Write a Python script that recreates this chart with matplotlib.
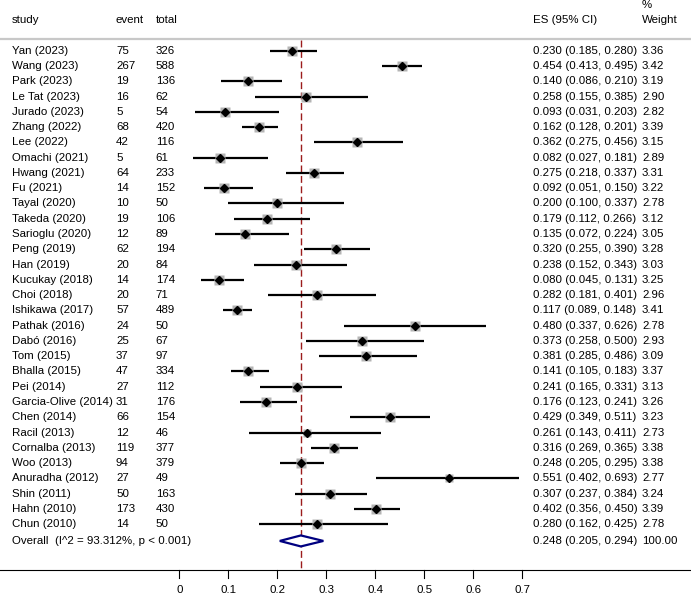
import numpy as np
import matplotlib
matplotlib.use("Agg")
import matplotlib.pyplot as plt

plt.rcParams['font.family'] = ['Liberation Sans', 'DejaVu Sans']
plt.rcParams['font.size'] = 8.25

studies = ["Yan (2023)", "Wang (2023)", "Park (2023)", "Le Tat (2023)", "Jurado (2023)",
           "Zhang (2022)", "Lee (2022)", "Omachi (2021)", "Hwang (2021)", "Fu (2021)",
           "Tayal (2020)", "Takeda (2020)", "Sarioglu (2020)", "Peng (2019)", "Han (2019)",
           "Kucukay (2018)", "Choi (2018)", "Ishikawa (2017)", "Pathak (2016)", "Dabó (2016)",
           "Tom (2015)", "Bhalla (2015)", "Pei (2014)", "Garcia-Olive (2014)", "Chen (2014)",
           "Racil (2013)", "Cornalba (2013)", "Woo (2013)", "Anuradha (2012)", "Shin (2011)",
           "Hahn (2010)", "Chun (2010)"]
events = [75, 267, 19, 16, 5, 68, 42, 5, 64, 14, 10, 19, 12, 62, 20, 14, 20, 57, 24, 25,
          37, 47, 27, 31, 66, 12, 119, 94, 27, 50, 173, 14]
totals = [326, 588, 136, 62, 54, 420, 116, 61, 233, 152, 50, 106, 89, 194, 84, 174, 71, 489,
          50, 67, 97, 334, 112, 176, 154, 46, 377, 379, 49, 163, 430, 50]
es = [0.230, 0.454, 0.140, 0.258, 0.093, 0.162, 0.362, 0.082, 0.275, 0.092, 0.200, 0.179,
      0.135, 0.320, 0.238, 0.080, 0.282, 0.117, 0.480, 0.373, 0.381, 0.141, 0.241, 0.176,
      0.429, 0.261, 0.316, 0.248, 0.551, 0.307, 0.402, 0.280]
lo = [0.185, 0.413, 0.086, 0.155, 0.031, 0.128, 0.275, 0.027, 0.218, 0.051, 0.100, 0.112,
      0.072, 0.255, 0.152, 0.045, 0.181, 0.089, 0.337, 0.258, 0.285, 0.105, 0.165, 0.123,
      0.349, 0.143, 0.269, 0.205, 0.402, 0.237, 0.356, 0.162]
hi = [0.280, 0.495, 0.210, 0.385, 0.203, 0.201, 0.456, 0.181, 0.337, 0.150, 0.337, 0.266,
      0.224, 0.390, 0.343, 0.131, 0.401, 0.148, 0.626, 0.500, 0.486, 0.183, 0.331, 0.241,
      0.511, 0.411, 0.365, 0.295, 0.693, 0.384, 0.450, 0.425]
weights = [3.36, 3.42, 3.19, 2.90, 2.82, 3.39, 3.15, 2.89, 3.31, 3.22, 2.78, 3.12, 3.05,
           3.28, 3.03, 3.25, 2.96, 3.41, 2.78, 2.93, 3.09, 3.37, 3.13, 3.26, 3.23, 2.73,
           3.38, 3.38, 2.77, 3.24, 3.39, 2.78]
overall_es, overall_lo, overall_hi = 0.248, 0.205, 0.294
overall_label = "Overall  (I^2 = 93.312%, p < 0.001)"
xticks = [0, 0.1, 0.2, 0.3, 0.4, 0.5, 0.6, 0.7]

fig = plt.figure(figsize=(6.91, 5.95), dpi=100)
ax = fig.add_axes([0, 0, 1, 1])
ax.set_xlim(-0.366, 1.0443)
ax.set_ylim(35.64, -3.32)
ax.axis("off")
tr = ax.get_yaxis_transform()  # x in axes fraction, y in data

col_study, col_event, col_total, col_es, col_w = 12 / 691, 116 / 691, 155.7 / 691, 533 / 691, 642 / 691

# headers
for x, s in [(col_study, "study"), (col_event, "event"), (col_total, "total"),
             (col_es, "ES (95% CI)"), (col_w, "Weight")]:
    ax.text(x, -2.0, s, transform=tr, va="center", ha="left")
ax.text(col_w, -3.0, "%", transform=tr, va="center", ha="left")
ax.plot([0, 1], [-0.77, -0.77], transform=tr, color="#c8c8c8", lw=1.6, clip_on=False)

# reference line
ax.plot([overall_es, overall_es], [-0.7, 34.0], color="#9b1c1c", lw=1.0, dashes=(5, 2.5), zorder=1)

rows = np.arange(len(studies))
for i in rows:
    ax.plot([lo[i], hi[i]], [i, i], color="black", lw=1.6, solid_capstyle="butt", zorder=2)
    ax.plot(es[i], i, marker="s", ms=7.2 * np.sqrt(weights[i] / 3.42), color="#b4b4b4",
            mec="none", zorder=3)
    ax.plot(es[i], i, marker="D", ms=3.6, color="black", zorder=4)
    ax.text(col_study, i, studies[i], transform=tr, va="center", ha="left")
    ax.text(col_event, i, str(events[i]), transform=tr, va="center", ha="left")
    ax.text(col_total, i, str(totals[i]), transform=tr, va="center", ha="left")
    ax.text(col_es, i, f"{es[i]:.3f} ({lo[i]:.3f}, {hi[i]:.3f})", transform=tr, va="center", ha="left")
    ax.text(col_w, i, f"{weights[i]:.2f}", transform=tr, va="center", ha="left")

# overall
oy = 32.1
h = 0.36
ax.fill([overall_lo, overall_es, overall_hi, overall_es], [oy, oy - h, oy, oy + h],
        facecolor="white", edgecolor="#000080", lw=1.6, zorder=5)
ax.text(col_study, oy, overall_label, transform=tr, va="center", ha="left")
ax.text(col_es, oy, f"{overall_es:.3f} ({overall_lo:.3f}, {overall_hi:.3f})", transform=tr,
        va="center", ha="left")
ax.text(col_w, oy, "100.00", transform=tr, va="center", ha="left")

# x axis
ax.plot([0, 1], [34.0, 34.0], transform=tr, color="black", lw=0.8, clip_on=False)
for t in xticks:
    ax.plot([t, t], [34.0, 34.5], color="black", lw=0.8)
    ax.text(t, 35.3, f"{t:g}", ha="center", va="center")

fig.savefig("out.png", dpi=100)
